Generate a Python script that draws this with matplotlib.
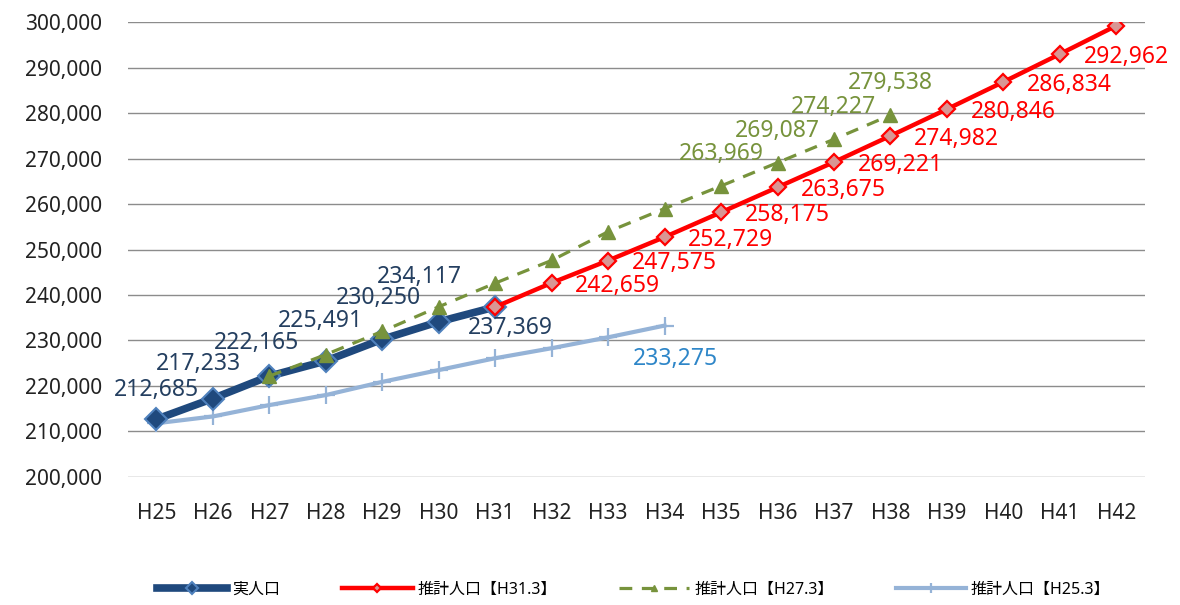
import matplotlib
matplotlib.use("Agg")
import matplotlib.pyplot as plt
from matplotlib.ticker import FuncFormatter

plt.rcParams['font.family'] = ['Noto Sans', 'Noto Sans CJK JP', 'DejaVu Sans']

# DATA ------------------------------------------------------------------------
years = ["H25", "H26", "H27", "H28", "H29", "H30", "H31", "H32", "H33",
         "H34", "H35", "H36", "H37", "H38", "H39", "H40", "H41", "H42"]

# actual population (H25 - H31)
actual = [212685, 217233, 222165, 225491, 230250, 234117, 237369]

# estimate made in H31.3 (H31 - H42)
est_h31 = [237369, 242659, 247575, 252729, 258175, 263675, 269221,
           274982, 280846, 286834, 292962, 299200]

# estimate made in H27.3 (H27 - H38)
est_h27 = [222165, 226900, 232000, 237400, 242600, 247600, 253900,
           259000, 263969, 269087, 274227, 279538]

# estimate made in H25.3 (H25 - H34)
est_h25 = [211800, 213300, 215800, 218000, 220900, 223500, 226100,
           228300, 230700, 233275]

x_actual = list(range(0, 7))
x_h31 = list(range(6, 18))
x_h27 = list(range(2, 14))
x_h25 = list(range(0, 10))

# PLOT ------------------------------------------------------------------------
fig = plt.figure(figsize=(11.8, 6.05), dpi=100)
ax = fig.add_axes([0.1085, 0.2116, 0.8615, 0.752])

c_navy = "#1F497D"
c_red = "#FF0000"
c_green = "#77933C"
c_lblue = "#95B3D7"

ax.plot(x_h25, est_h25, color=c_lblue, lw=3, marker="+", ms=13, mew=1.6,
        label="推計人口【H25.3】", zorder=2)
ax.plot(x_actual, actual, color=c_navy, lw=5.5, marker="D", ms=11.5,
        mfc=c_navy, mec="#4F81BD", mew=1.5, label="実人口", zorder=3)
ax.plot(x_h27, est_h27, color=c_green, lw=2.3, ls=(0, (4, 3)), marker="^",
        ms=10, mfc=c_green, mec=c_green, label="推計人口【H27.3】", zorder=4)
ax.plot(x_h31, est_h31, color=c_red, lw=3.2, marker="D", ms=8.5,
        mfc="#D99694", mec=c_red, mew=1.6, label="推計人口【H31.3】", zorder=5)

fmt = lambda v: "{:,}".format(v)
fs = 16.5

# navy labels (hand placed offsets, points)
navy_off = [(0, 21), (-10, 25), (-9, 24), (-4, 29), (-3, 30), (-14, 32), (11, -15)]
for xi, v, off in zip(x_actual, actual, navy_off):
    ax.annotate(fmt(v), (xi, v), xytext=off, textcoords="offset points",
                ha="center", va="center", color="#243F60", fontsize=fs, zorder=6)

# red labels, right of the marker
for xi, v in zip(x_h31[1:-1], est_h31[1:-1]):
    ax.annotate(fmt(v), (xi, v), xytext=(17, -2), textcoords="offset points",
                ha="left", va="center", color=c_red, fontsize=fs, zorder=6)

# green labels, above the marker
for xi, v in zip(x_h27[8:], est_h27[8:]):
    ax.annotate(fmt(v), (xi, v), xytext=(0, 23), textcoords="offset points",
                ha="center", va="center", color=c_green, fontsize=fs, zorder=6)

ax.annotate(fmt(est_h25[-1]), (x_h25[-1], est_h25[-1]), xytext=(8, -24),
            textcoords="offset points", ha="center", va="center",
            color="#2E86C8", fontsize=fs, zorder=6)

ax.set_xlim(-0.5, 17.5)
ax.set_ylim(200000, 300000)
ax.set_yticks(range(200000, 300001, 10000))
ax.yaxis.set_major_formatter(FuncFormatter(lambda v, p: "{:,}".format(int(v))))
ax.set_xticks(range(len(years)))
ax.set_xticklabels(years)
ax.tick_params(axis="y", length=0, pad=19, labelsize=15, colors="#222222")
ax.tick_params(axis="x", length=0, pad=19, labelsize=15, colors="#222222")
ax.grid(True, axis="y", color="#8C8C8C", lw=1)
ax.set_axisbelow(True)
for s in ax.spines.values():
    s.set_visible(False)

h, l = ax.get_legend_handles_labels()
order = [1, 3, 2, 0]
fig.legend([h[i] for i in order], [l[i] for i in order], loc="center",
           bbox_to_anchor=(0.537, 0.025), ncol=4, frameon=False, fontsize=11.5,
           handlelength=4.4, columnspacing=3.9, handletextpad=0.3,
           markerscale=0.5)

fig.savefig("out.png", dpi=100)
